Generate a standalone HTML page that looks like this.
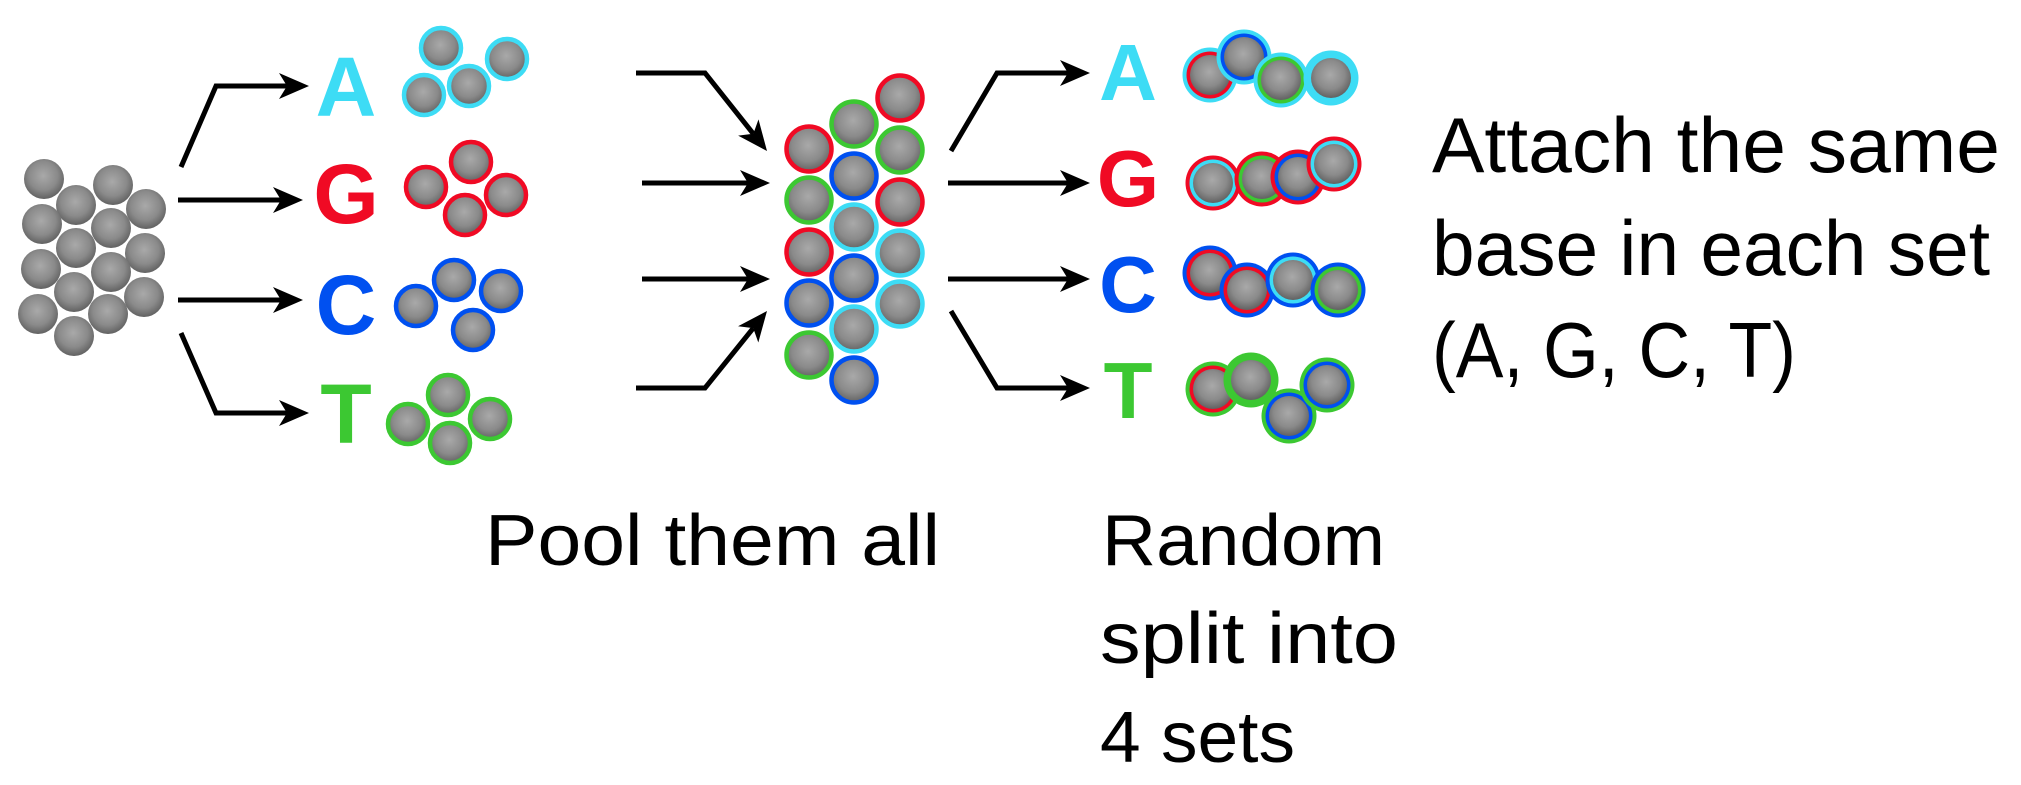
<!DOCTYPE html>
<html>
<head>
<meta charset="utf-8">
<style>
  html,body{margin:0;padding:0;background:#fff;}
  svg{display:block;}
  .lbl{font-family:"Liberation Sans",sans-serif;font-weight:bold;}
  .cap{font-family:"Liberation Sans",sans-serif;fill:#000;}
</style>
</head>
<body>
<svg id="fig" width="2021" height="785" viewBox="0 0 2021 785" xmlns="http://www.w3.org/2000/svg">
  <defs>
    <radialGradient id="bead" cx="48%" cy="42%" r="60%">
      <stop offset="0%" stop-color="#a9a9a9"/>
      <stop offset="60%" stop-color="#8a8a8a"/>
      <stop offset="100%" stop-color="#5e5e5e"/>
    </radialGradient>
  </defs>
  <g id="beads"></g>
  <g id="arrows"></g>

  <text class="lbl" x="346" y="116" font-size="84" text-anchor="middle" fill="#3ddcf5">A</text>
  <text class="lbl" x="346" y="223" font-size="84" text-anchor="middle" fill="#f00a24">G</text>
  <text class="lbl" x="346" y="334" font-size="84" text-anchor="middle" fill="#0050f0">C</text>
  <text class="lbl" x="346" y="443" font-size="84" text-anchor="middle" fill="#3cc832">T</text>

  <text class="lbl" x="1128" y="100" font-size="80" text-anchor="middle" fill="#3ddcf5">A</text>
  <text class="lbl" x="1128" y="206" font-size="80" text-anchor="middle" fill="#f00a24">G</text>
  <text class="lbl" x="1128" y="312" font-size="80" text-anchor="middle" fill="#0050f0">C</text>
  <text class="lbl" x="1128" y="418" font-size="80" text-anchor="middle" fill="#3cc832">T</text>

  <text class="cap" x="1432" y="172" font-size="78" textLength="568" lengthAdjust="spacingAndGlyphs">Attach the same</text>
  <text class="cap" x="1432" y="275" font-size="78" textLength="558" lengthAdjust="spacingAndGlyphs">base in each set</text>
  <text class="cap" x="1432" y="377" font-size="78" textLength="364" lengthAdjust="spacingAndGlyphs">(A, G, C, T)</text>

  <text class="cap" x="485" y="565" font-size="72" textLength="455" lengthAdjust="spacingAndGlyphs">Pool them all</text>
  <text class="cap" x="1102" y="565" font-size="72" textLength="283" lengthAdjust="spacingAndGlyphs">Random</text>
  <text class="cap" x="1100" y="663" font-size="72" textLength="298" lengthAdjust="spacingAndGlyphs">split into</text>
  <text class="cap" x="1100" y="762" font-size="72" textLength="195" lengthAdjust="spacingAndGlyphs">4 sets</text>
</svg>
<script>
const C = {a:'#3ddcf5', g:'#f00a24', c:'#0050f0', t:'#3cc832'};
// gray pile [x,y]
const pileBeads = [[44,179],[76,205],[113,185],[146,209],[42,224],[111,228],[76,248],[145,253],[41,269],[111,272],[74,292],[144,297],[38,314],[108,314],[74,336]];
// single-ring sets [x,y,color]
const setBeads = [
  [441,48,'a'],[507,59,'a'],[424,95,'a'],[469,86,'a'],
  [471,162,'g'],[426,187,'g'],[506,195,'g'],[465,215,'g'],
  [454,280,'c'],[416,306,'c'],[501,291,'c'],[473,330,'c'],
  [448,395,'t'],[408,424,'t'],[490,419,'t'],[450,443,'t']
];
// pooled beads [x,y,color]
const poolBeads = [
  [809,149,'g'],[809,200,'t'],[809,252,'g'],[809,303,'c'],[809,355,'t'],
  [854,124,'t'],[854,176,'c'],[854,227,'a'],[854,278,'c'],[854,329,'a'],[854,380,'c'],
  [900,98,'g'],[900,150,'t'],[900,202,'g'],[900,253,'a'],[900,304,'a']
];
// double-ring beads [x,y,outer,inner]
const splitBeads = [
  [1210,75,'a','g'],[1244,57,'a','c'],[1281,80,'a','t'],[1331,78,'a','a'],
  [1213,183,'g','a'],[1262,179,'g','t'],[1298,177,'g','c'],[1334,164,'g','a'],
  [1210,273,'c','g'],[1247,290,'c','g'],[1293,280,'c','a'],[1338,290,'c','t'],
  [1213,389,'t','g'],[1251,380,'t','t'],[1289,416,'t','c'],[1327,385,'t','c']
];
// arrows: polyline points, last point is the tip
const arrowPaths = [
  [[181,167],[216,86],[309,86]],
  [[178,200],[303,200]],
  [[178,300],[303,300]],
  [[181,333],[216,413],[309,413]],
  [[636,73],[705,73],[767,151]],
  [[642,183],[770,183]],
  [[642,279],[770,279]],
  [[636,388],[705,388],[767,311]],
  [[951,151],[997,73],[1090,73]],
  [[948,183],[1090,183]],
  [[948,279],[1090,279]],
  [[951,311],[997,388],[1090,388]]
];
const NS='http://www.w3.org/2000/svg';
const gB=document.getElementById('beads'), gA=document.getElementById('arrows');
function circ(parent,x,y,r,fill,stroke,sw){
  const c=document.createElementNS(NS,'circle');
  c.setAttribute('cx',x);c.setAttribute('cy',y);c.setAttribute('r',r);
  c.setAttribute('fill',fill);
  if(stroke){c.setAttribute('stroke',stroke);c.setAttribute('stroke-width',sw);}
  parent.appendChild(c);return c;
}
pileBeads.forEach(p=>{
  const c=circ(gB,p[0],p[1],20,'url(#bead)');
  
  
});
setBeads.forEach(p=>{
  const c=circ(gB,p[0],p[1],20,'url(#bead)',C[p[2]],4.5);
  
  
});
poolBeads.forEach(p=>{
  const c=circ(gB,p[0],p[1],22.5,'url(#bead)',C[p[2]],4.5);
  
  
});
splitBeads.forEach(p=>{
  const g=document.createElementNS(NS,'g');
  
  
  circ(g,p[0],p[1],27.5,C[p[2]]);
  circ(g,p[0],p[1],23.5,C[p[3]]);
  circ(g,p[0],p[1],20,'url(#bead)');
  gB.appendChild(g);
});
arrowPaths.forEach(pts=>{
  const g=document.createElementNS(NS,'g');
  
  
  const n=pts.length, tip=pts[n-1], prev=pts[n-2];
  const dx=tip[0]-prev[0], dy=tip[1]-prev[1], L=Math.hypot(dx,dy), ux=dx/L, uy=dy/L;
  const px=-uy, py=ux, hl=30, hw=13, notch=8;
  const end=[tip[0]-ux*(hl-notch),tip[1]-uy*(hl-notch)];
  const pl=document.createElementNS(NS,'polyline');
  const pp=pts.slice(0,n-1).concat([end]);
  pl.setAttribute('points',pp.map(p=>p.join(',')).join(' '));
  pl.setAttribute('fill','none');pl.setAttribute('stroke','#000');pl.setAttribute('stroke-width','5');
  g.appendChild(pl);
  const bx=tip[0]-ux*hl, by=tip[1]-uy*hl;
  const h=document.createElementNS(NS,'polygon');
  h.setAttribute('points',[tip,[bx+px*hw,by+py*hw],[tip[0]-ux*(hl-notch),tip[1]-uy*(hl-notch)],[bx-px*hw,by-py*hw]].map(p=>p.join(',')).join(' '));
  h.setAttribute('fill','#000');
  g.appendChild(h);
  gA.appendChild(g);
});
</script>
</body>
</html>
